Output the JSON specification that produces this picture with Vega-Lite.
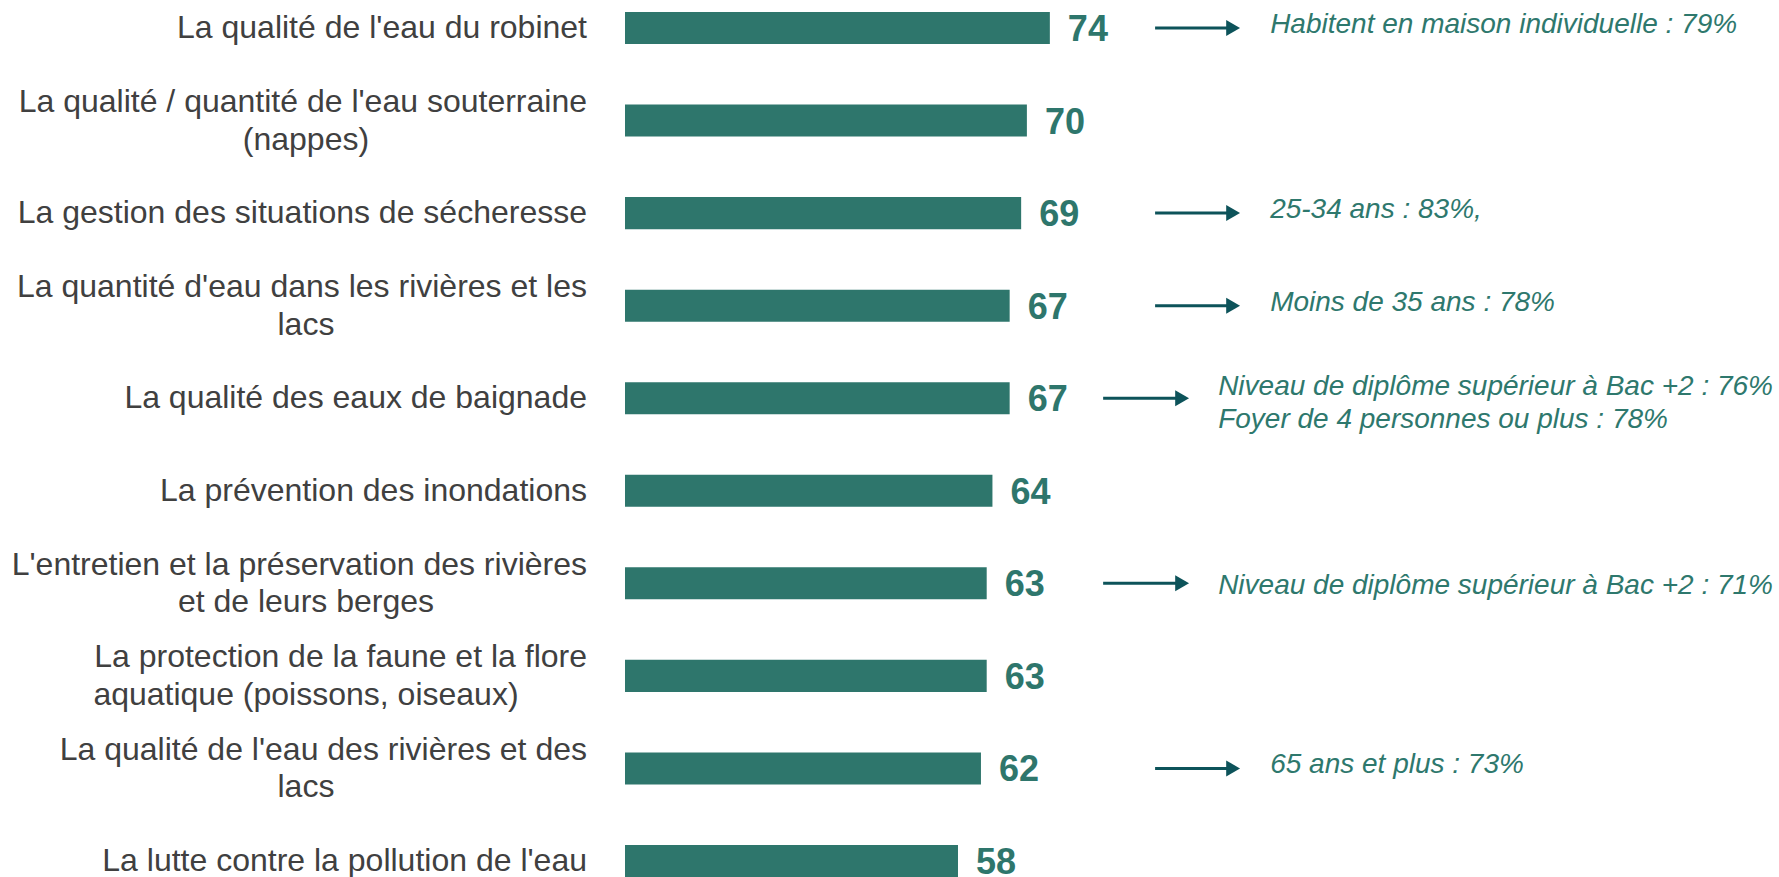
{
  "$schema": "https://vega.github.io/schema/vega-lite/v6.json",
  "width": 1154,
  "height": 865,
  "autosize": {"type": "none"},
  "padding": {"left": 625, "top": 12, "right": 0, "bottom": 0},
  "background": "white",
  "config": {"view": {"stroke": null}, "text": {"font": "Liberation Sans"}},
  "data": {
    "values": [
      {"cat": "La qualité de l'eau du robinet", "value": 74, "l1": "La qualité de l'eau du robinet", "l2": null, "note": "Habitent en maison individuelle : 79%", "grp": "A"},
      {"cat": "La qualité / quantité de l'eau souterraine (nappes)", "value": 70, "l1": "La qualité / quantité de l'eau souterraine", "l2": "(nappes)", "note": null, "grp": null},
      {"cat": "La gestion des situations de sécheresse", "value": 69, "l1": "La gestion des situations de sécheresse", "l2": null, "note": "25-34 ans : 83%,", "grp": "A"},
      {"cat": "La quantité d'eau dans les rivières et les lacs", "value": 67, "l1": "La quantité d'eau dans les rivières et les", "l2": "lacs", "note": "Moins de 35 ans : 78%", "grp": "A"},
      {"cat": "La qualité des eaux de baignade", "value": 67, "l1": "La qualité des eaux de baignade", "l2": null, "note": ["Niveau de diplôme supérieur à Bac +2 : 76%", "Foyer de 4 personnes ou plus : 78%"], "grp": "B"},
      {"cat": "La prévention des inondations", "value": 64, "l1": "La prévention des inondations", "l2": null, "note": null, "grp": null},
      {"cat": "L'entretien et la préservation des rivières et de leurs berges", "value": 63, "l1": "L'entretien et la préservation des rivières", "l2": "et de leurs berges", "note": "Niveau de diplôme supérieur à Bac +2 : 71%", "grp": "B"},
      {"cat": "La protection de la faune et la flore aquatique (poissons, oiseaux)", "value": 63, "l1": "La protection de la faune et la flore", "l2": "aquatique (poissons, oiseaux)", "note": null, "grp": null},
      {"cat": "La qualité de l'eau des rivières et des lacs", "value": 62, "l1": "La qualité de l'eau des rivières et des", "l2": "lacs", "note": "65 ans et plus : 73%", "grp": "A"},
      {"cat": "La lutte contre la pollution de l'eau", "value": 58, "l1": "La lutte contre la pollution de l'eau", "l2": null, "note": null, "grp": null}
    ]
  },
  "encoding": {
    "y": {"field": "cat", "type": "nominal", "sort": null, "axis": null, "scale": {"paddingInner": 0.654, "paddingOuter": 0}}
  },
  "layer": [
    {
      "mark": {"type": "bar", "color": "#2e766c"},
      "encoding": {
        "x": {"field": "value", "type": "quantitative", "axis": null, "scale": {"domain": [0, 201], "nice": false, "zero": true}}
      }
    },
    {
      "mark": {"type": "text", "align": "left", "baseline": "middle", "dx": 18, "dy": 2, "fontSize": 36, "fontWeight": "bold", "color": "#2e766c"},
      "encoding": {
        "x": {"field": "value", "type": "quantitative"},
        "text": {"field": "value", "type": "quantitative"}
      }
    },
    {
      "transform": [{"filter": "!datum.l2"}],
      "mark": {"type": "text", "align": "right", "baseline": "middle", "fontSize": 32, "color": "#404040"},
      "encoding": {
        "x": {"datum": -6.62, "type": "quantitative"},
        "text": {"field": "l1", "type": "nominal"}
      }
    },
    {
      "transform": [{"filter": "datum.l2"}],
      "mark": {"type": "text", "align": "right", "baseline": "middle", "dy": -18.5, "fontSize": 32, "color": "#404040"},
      "encoding": {
        "x": {"datum": -6.62, "type": "quantitative"},
        "text": {"field": "l1", "type": "nominal"}
      }
    },
    {
      "transform": [{"filter": "datum.l2"}],
      "mark": {"type": "text", "align": "center", "baseline": "middle", "dy": 19, "fontSize": 32, "color": "#404040"},
      "encoding": {
        "x": {"datum": -55.57, "type": "quantitative"},
        "text": {"field": "l2", "type": "nominal"}
      }
    },
    {
      "transform": [{"filter": "datum.grp == 'A'"}],
      "mark": {"type": "rule", "strokeWidth": 3, "color": "#0d535a"},
      "encoding": {
        "x": {"datum": 92.33, "type": "quantitative"},
        "x2": {"datum": 105.92}
      }
    },
    {
      "transform": [{"filter": "datum.grp == 'A'"}],
      "mark": {"type": "point", "shape": "triangle-right", "filled": true, "size": 256, "opacity": 1, "color": "#0d535a"},
      "encoding": {
        "x": {"datum": 105.92, "type": "quantitative"}
      }
    },
    {
      "transform": [{"filter": "datum.grp == 'A'"}],
      "mark": {"type": "text", "align": "left", "baseline": "middle", "dy": -3, "fontSize": 28, "fontStyle": "italic", "lineHeight": 33, "color": "#2e786d"},
      "encoding": {
        "x": {"datum": 112.37, "type": "quantitative"},
        "text": {"field": "note", "type": "nominal"}
      }
    },
    {
      "transform": [{"filter": "datum.grp == 'B'"}],
      "mark": {"type": "rule", "strokeWidth": 3, "color": "#0d535a"},
      "encoding": {
        "x": {"datum": 83.28, "type": "quantitative"},
        "x2": {"datum": 97.04}
      }
    },
    {
      "transform": [{"filter": "datum.grp == 'B'"}],
      "mark": {"type": "point", "shape": "triangle-right", "filled": true, "size": 256, "opacity": 1, "color": "#0d535a"},
      "encoding": {
        "x": {"datum": 97.04, "type": "quantitative"}
      }
    },
    {
      "transform": [{"filter": "datum.grp == 'B' && !isArray(datum.note)"}],
      "mark": {"type": "text", "align": "left", "baseline": "middle", "dy": 3, "fontSize": 28, "fontStyle": "italic", "lineHeight": 33, "color": "#2e786d"},
      "encoding": {
        "x": {"datum": 103.31, "type": "quantitative"},
        "text": {"field": "note", "type": "nominal"}
      }
    },
    {
      "transform": [{"filter": "datum.grp == 'B' && isArray(datum.note)"}],
      "mark": {"type": "text", "align": "left", "baseline": "middle", "dy": -11, "fontSize": 28, "fontStyle": "italic", "lineHeight": 33, "color": "#2e786d"},
      "encoding": {
        "x": {"datum": 103.31, "type": "quantitative"},
        "text": {"field": "note", "type": "nominal"}
      }
    }
  ]
}
